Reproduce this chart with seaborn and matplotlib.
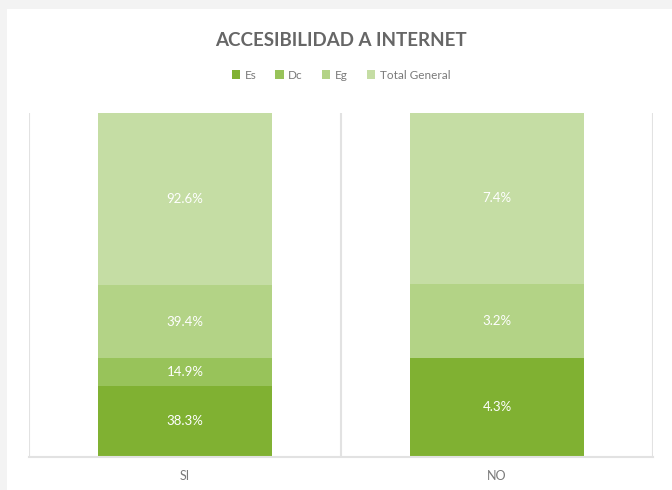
import matplotlib
matplotlib.use("Agg")
import matplotlib.pyplot as plt
from matplotlib.patches import Rectangle, Patch
import seaborn as sns
import pandas as pd
import numpy as np

# Data
categories = ["SI", "NO"]
series_names = ["Es", "Dc", "Eg", "Total General"]
es_values = [38.3, 4.3]
dc_values = [14.9, 0.0]
eg_values = [39.4, 3.2]
total_values = [92.6, 7.4]
series_colors = ["#80b132", "#98c35a", "#b3d386", "#c5dda4"]

sns.set_theme(style="white")
plt.rcParams["font.family"] = ["Lato", "DejaVu Sans"]

df = pd.DataFrame({
    "cat": categories,
    "Es": es_values,
    "Dc": dc_values,
    "Eg": eg_values,
    "Total General": total_values,
})
col_sum = df[series_names].sum(axis=1)

fig = plt.figure(figsize=(6.72, 4.90), dpi=100)
fig.patch.set_facecolor("#f3f3f3")
# white card
fig.add_artist(Rectangle((7 / 672, 0), 1, 1 - 9 / 490, transform=fig.transFigure,
                         facecolor="white", edgecolor="none", zorder=0))

ax = fig.add_axes([29 / 672, 1 - 457 / 490, (653 - 29) / 672, (457 - 113) / 490])
ax.set_facecolor("none")

bottom = np.zeros(len(df))
for name, color in zip(series_names, series_colors):
    share = (df[name] / col_sum).values
    sns.barplot(x=df["cat"], y=share, color=color, width=0.56, bottom=bottom,
                ax=ax, saturation=1, edgecolor="none", linewidth=0, zorder=2)
    for i, (s, v) in enumerate(zip(share, df[name].values)):
        if v > 0:
            ax.text(i, bottom[i] + s / 2, f"{v:.1f}%", ha="center", va="center",
                    color="white", fontsize=9.5, zorder=3)
    bottom += share

ax.set_xlim(-0.5, 1.5)
ax.set_ylim(0, 1)
ax.set_xlabel("")
ax.set_ylabel("")
ax.set_yticks([])
for xb in [-0.5, 0.5, 1.5]:
    ax.axvline(xb, color="#e2e2e2", lw=1.5, zorder=1)
for side in ["top", "right", "left"]:
    ax.spines[side].set_visible(False)
ax.spines["bottom"].set_color("#e2e2e2")
ax.spines["bottom"].set_linewidth(1.5)
ax.tick_params(axis="x", length=0, pad=9, labelsize=9, labelcolor="#7a7a7a")

fig.text(341 / 672, 1 - 40 / 490, "ACCESIBILIDAD A INTERNET", ha="center", va="center",
         fontsize=13.5, fontweight="bold", color="#666666")

handles = [Patch(facecolor=c, edgecolor="none") for c in series_colors]
fig.legend(handles, series_names, loc="center", bbox_to_anchor=(341 / 672, 1 - 75 / 490),
           ncol=4, frameon=False, fontsize=8.5, labelcolor="#7a7a7a",
           handlelength=0.7, handleheight=0.7, handletextpad=0.4, columnspacing=1.6)

fig.savefig("out.png", dpi=100, facecolor=fig.get_facecolor())
